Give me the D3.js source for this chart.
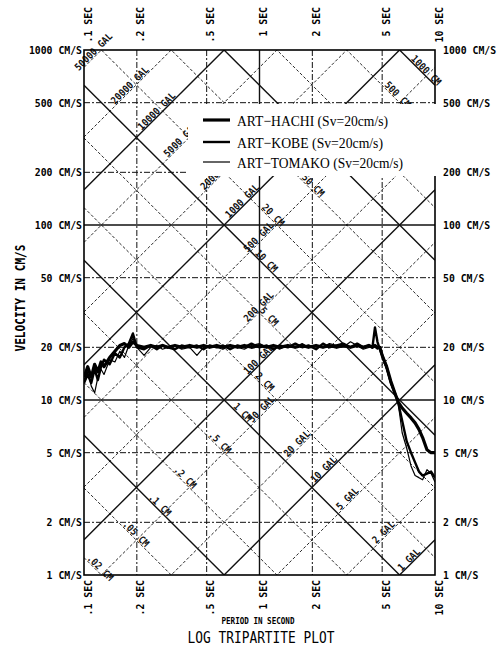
<!DOCTYPE html>
<html lang="en">
<head>
<meta charset="UTF-8">
<script src="https://d3js.org/d3.v7.min.js"></script>
<title>Log Tripartite Plot</title>
<style>
    body { margin: 0; background: #fff; }
    svg { display: block; }
</style>
</head>
<body>
<script>
// periods (sec) shared by the three spectra
const periods = [0.1, 0.105, 0.11, 0.115, 0.12, 0.125, 0.13,
    0.14, 0.15, 0.16, 0.17, 0.18, 0.19, 0.2,
    0.22, 0.24, 0.26, 0.28, 0.3, 0.33, 0.36, 0.4, 0.44, 0.48,
    0.52, 0.57, 0.62, 0.68, 0.75, 0.82, 0.9, 1.0, 1.1, 1.2,
    1.3, 1.45, 1.6, 1.75, 1.9, 2.1, 2.3, 2.5, 2.75, 3.0,
    3.3, 3.6, 3.9, 4.2, 4.4, 4.55, 4.7, 4.85, 5.0, 5.3,
    5.6, 5.9, 6.15, 6.5, 6.9, 7.3, 7.7, 8.1, 8.5, 9.0, 9.5, 10];

// velocity response (cm/s)
const hachi = [13.5, 15.5, 13.5, 16, 14.5, 16.5, 15.5,
    17.5, 19, 20.5, 21, 20, 21.5, 20.5,
    20, 20.5, 20, 20.5, 20, 20.5, 20, 20.5, 20, 20.5,
    20, 20.5, 20, 20.5, 20, 20.5, 20, 20.5, 20, 20.5,
    20, 20.5, 20, 20.5, 20, 20.5, 20, 20.5, 20, 20.5,
    20, 20.5, 20, 20.5, 20, 20.5, 20, 20, 18, 15.5,
    12.8, 11, 9.8, 9, 8.4, 7.9, 7.4, 6.8, 6.1, 5.2, 5.0, 5.0];

const kobe = [12.5, 14, 12.5, 15, 13, 15.5, 17,
    16, 18.5, 17.5, 20, 21, 24, 20,
    19.5, 20.5, 19.5, 20.5, 20, 19.5, 20.5, 20, 20.5, 19.5,
    20.5, 20, 20.5, 19.5, 20.5, 20, 21, 20, 20.5, 19.5,
    20.5, 20, 21, 20, 20.5, 19.5, 21, 20, 20.5, 21,
    20, 21, 20, 20.5, 20, 26, 21.5, 19.5, 18, 15.5,
    12.5, 11, 9.8, 7.6, 5.8, 5.0, 4.4, 3.9, 3.7, 3.8, 3.9, 3.6];

const tomako = [13, 14.5, 12, 11, 13.5, 15, 14,
    17, 16.5, 19, 17.5, 20.5, 22.5, 20,
    18, 20, 20.5, 19.5, 20, 20.5, 19.5, 20, 18, 20,
    20.5, 20, 19.5, 20.5, 20, 19.5, 20.5, 21, 20, 20.5,
    19.5, 20.5, 20, 21, 20, 20.5, 20, 21, 20.5, 20,
    21.5, 20.5, 19.5, 20, 20.5, 20, 19.5, 20, 17.5, 15,
    12.5, 10.8, 9.8, 6.5, 5.3, 4.2, 3.7, 3.6, 3.5, 4.0, 3.8, 3.4];

const seriesNames = ['ART−HACHI (Sv=20cm/s)', 'ART−KOBE (Sv=20cm/s)', 'ART−TOMAKO (Sv=20cm/s)'];

// axis ticks
const periodTicks = [0.1, 0.2, 0.5, 1, 2, 5, 10];
const periodLabels = ['.1 SEC', '.2 SEC', '.5 SEC', '1 SEC', '2 SEC', '5 SEC', '10 SEC'];
const velocityTicks = [1, 2, 5, 10, 20, 50, 100, 200, 500, 1000];
const velocityLabels = ['1 CM/S', '2 CM/S', '5 CM/S', '10 CM/S', '20 CM/S', '50 CM/S',
    '100 CM/S', '200 CM/S', '500 CM/S', '1000 CM/S'];

// diagonal lines: acceleration (gal) and displacement (cm)
const galValues = [1, 2, 5, 10, 20, 50, 100, 200, 500, 1000, 2000, 5000, 10000, 20000, 50000];
const galLabels = ['1 GAL', '2 GAL', '5 GAL', '10 GAL', '20 GAL', '50 GAL', '100 GAL', '200 GAL',
    '500 GAL', '1000 GAL', '2000 GAL', '5000 GAL', '10000 GAL', '20000 GAL', '50000 GAL'];
const cmValues = [0.02, 0.05, 0.1, 0.2, 0.5, 1, 2, 5, 10, 20, 50, 100, 200, 500, 1000];
const cmLabels = ['.02 CM', '.05 CM', '.1 CM', '.2 CM', '.5 CM', '1 CM', '2 CM', '5 CM',
    '10 CM', '20 CM', '50 CM', null, null, '500 CM', '1000 CM'];

// where along each diagonal the label sits (period, sec)
const galLabelAt = [7.4, 5.3, 3.3, 2.42, 1.7, 1.07, 1.03, 1.03, 1.03, 0.83, 0.6, 0.37, 0.27, 0.19, 0.118];
const cmLabelAt = [0.119, 0.19, 0.26, 0.362, 0.572, 0.77, 1.03, 1.09, 1.05, 1.15, 1.94, null, null, 5.89, 8.55];

const W = 503, H = 646;
const plotLeft = 84, plotRight = 435, plotTop = 50, plotBottom = 575;
const mono = '"DejaVu Sans Mono", "Liberation Mono", monospace';
const TWO_PI = 2 * Math.PI;

const svg = d3.select('body').append('svg')
    .attr('width', W)
    .attr('height', H);

const x = d3.scaleLog().domain([0.1, 10]).range([plotLeft, plotRight]);
const y = d3.scaleLog().domain([1, 1000]).range([plotBottom, plotTop]);

svg.append('defs').append('clipPath')
    .attr('id', 'plot-clip')
    .append('rect')
    .attr('x', plotLeft).attr('y', plotTop)
    .attr('width', plotRight - plotLeft).attr('height', plotBottom - plotTop);

const isDecade = v => Math.abs(Math.log10(v) - Math.round(Math.log10(v))) < 1e-6;

// vertical / horizontal grid
const grid = svg.append('g').attr('stroke', '#111').attr('fill', 'none');
grid.selectAll('.vgrid')
    .data(periodTicks.slice(1, -1))
    .enter().append('line')
    .attr('x1', d => x(d)).attr('x2', d => x(d))
    .attr('y1', plotTop).attr('y2', plotBottom)
    .attr('stroke-width', d => isDecade(d) ? 1.4 : 1)
    .attr('stroke-dasharray', d => isDecade(d) ? null : '6,2,2,2');
grid.selectAll('.hgrid')
    .data(velocityTicks.slice(1, -1))
    .enter().append('line')
    .attr('x1', plotLeft).attr('x2', plotRight)
    .attr('y1', d => y(d)).attr('y2', d => y(d))
    .attr('stroke-width', d => isDecade(d) ? 1.4 : 1)
    .attr('stroke-dasharray', d => isDecade(d) ? null : '6,2,2,2');

// diagonal lines
const diag = svg.append('g')
    .attr('clip-path', 'url(#plot-clip)')
    .attr('stroke', '#111').attr('fill', 'none');

// Sv = Sa * T / 2pi
diag.selectAll('.gal')
    .data(galValues)
    .enter().append('line')
    .attr('x1', x(0.1)).attr('x2', x(10))
    .attr('y1', d => y(d * 0.1 / TWO_PI))
    .attr('y2', d => y(d * 10 / TWO_PI))
    .attr('stroke-width', d => isDecade(d) ? 1.4 : 0.9)
    .attr('stroke-dasharray', d => isDecade(d) ? null : '3,2');

// Sv = 2pi * Sd / T
diag.selectAll('.cm')
    .data(cmValues)
    .enter().append('line')
    .attr('x1', x(0.1)).attr('x2', x(10))
    .attr('y1', d => y(TWO_PI * d / 0.1))
    .attr('y2', d => y(TWO_PI * d / 10))
    .attr('stroke-width', d => isDecade(d) ? 1.4 : 0.9)
    .attr('stroke-dasharray', d => isDecade(d) ? null : '3,2');

// diagonal labels
const diagLabels = svg.append('g')
    .attr('font-family', mono)
    .attr('font-size', '10px')
    .attr('font-weight', 'bold')
    .attr('fill', '#111')
    .attr('text-anchor', 'middle');

diagLabels.selectAll('.gal-label')
    .data(galValues.map((v, i) => ({ v: v, t: galLabelAt[i], label: galLabels[i] })))
    .enter().append('text')
    .attr('transform', d => `translate(${x(d.t)},${y(d.v * d.t / TWO_PI)}) rotate(-45)`)
    .attr('dy', -1)
    .attr('textLength', d => d.label.length * 5.4)
    .attr('lengthAdjust', 'spacingAndGlyphs')
    .text(d => d.label);

diagLabels.selectAll('.cm-label')
    .data(cmValues.map((v, i) => ({ v: v, t: cmLabelAt[i], label: cmLabels[i] })).filter(d => d.label))
    .enter().append('text')
    .attr('transform', d => `translate(${x(d.t)},${y(TWO_PI * d.v / d.t)}) rotate(45)`)
    .attr('dy', -1)
    .attr('textLength', d => d.label.length * 5.4)
    .attr('lengthAdjust', 'spacingAndGlyphs')
    .text(d => d.label);

// spectra
const series = [
    { values: hachi, width: 3.2 },
    { values: kobe, width: 2.4 },
    { values: tomako, width: 1.2 }
];

const line = d3.line()
    .x(d => x(d[0]))
    .y(d => y(d[1]));

svg.append('g')
    .attr('clip-path', 'url(#plot-clip)')
    .selectAll('path')
    .data(series)
    .enter().append('path')
    .attr('d', s => line(periods.map((t, i) => [t, s.values[i]])))
    .attr('fill', 'none')
    .attr('stroke', '#000')
    .attr('stroke-width', s => s.width)
    .attr('stroke-linejoin', 'round');

// frame
svg.append('rect')
    .attr('x', plotLeft).attr('y', plotTop)
    .attr('width', plotRight - plotLeft).attr('height', plotBottom - plotTop)
    .attr('fill', 'none')
    .attr('stroke', '#000')
    .attr('stroke-width', 1.6);

// legend (white box covers the grid)
svg.append('rect')
    .attr('x', 188).attr('y', 104)
    .attr('width', 252).attr('height', 72)
    .attr('fill', '#fff');

const legend = svg.append('g')
    .selectAll('g')
    .data(series)
    .enter().append('g')
    .attr('transform', (d, i) => `translate(203, ${[120, 142, 162][i]})`);

legend.append('line')
    .attr('x1', 0).attr('x2', 27)
    .attr('stroke', '#000')
    .attr('stroke-width', d => d.width);

legend.append('text')
    .attr('x', 34)
    .attr('y', 6)
    .attr('font-family', '"Liberation Serif", "Times New Roman", serif')
    .attr('font-size', '15px')
    .attr('textLength', (d, i) => [151, 146, 166][i])
    .attr('lengthAdjust', 'spacingAndGlyphs')
    .text((d, i) => seriesNames[i]);

// axes
function styleAxis(g) {
    g.select('.domain').remove();
    g.selectAll('.tick text')
        .attr('font-family', mono)
        .attr('font-size', '11px')
        .attr('font-weight', 'bold')
        .attr('fill', '#000')
        .attr('textLength', function () { return this.textContent.length * 5.9; })
        .attr('lengthAdjust', 'spacingAndGlyphs');
}

svg.append('g')
    .attr('transform', `translate(${plotLeft},0)`)
    .call(d3.axisLeft(y).tickValues(velocityTicks)
        .tickFormat((d, i) => velocityLabels[i]).tickSize(0).tickPadding(2))
    .call(styleAxis);

svg.append('g')
    .attr('transform', `translate(${plotRight},0)`)
    .call(d3.axisRight(y).tickValues(velocityTicks)
        .tickFormat((d, i) => velocityLabels[i]).tickSize(0).tickPadding(8))
    .call(styleAxis);

svg.append('g')
    .attr('transform', `translate(0,${plotTop})`)
    .call(d3.axisTop(x).tickValues(periodTicks)
        .tickFormat((d, i) => periodLabels[i]).tickSize(0))
    .call(styleAxis)
    .call(g => g.selectAll('.tick text')
        .attr('transform', 'rotate(-90)')
        .attr('text-anchor', 'end')
        .attr('x', 43)
        .attr('y', 7)
        .attr('dy', 0));

svg.append('g')
    .attr('transform', `translate(0,${plotBottom})`)
    .call(d3.axisBottom(x).tickValues(periodTicks)
        .tickFormat((d, i) => periodLabels[i]).tickSize(0))
    .call(styleAxis)
    .call(g => g.selectAll('.tick text')
        .attr('transform', 'rotate(-90)')
        .attr('text-anchor', 'end')
        .attr('x', -5)
        .attr('y', 7)
        .attr('dy', 0));

// titles
svg.append('text')
    .attr('transform', 'translate(25,298) rotate(-90)')
    .attr('text-anchor', 'middle')
    .attr('font-family', mono)
    .attr('font-size', '14px')
    .attr('font-weight', 'bold')
    .attr('textLength', 107)
    .attr('lengthAdjust', 'spacingAndGlyphs')
    .text('VELOCITY IN CM/S');

svg.append('text')
    .attr('x', 258).attr('y', 624)
    .attr('text-anchor', 'middle')
    .attr('font-family', mono)
    .attr('font-size', '8.5px')
    .attr('font-weight', 'bold')
    .attr('textLength', 73)
    .attr('lengthAdjust', 'spacingAndGlyphs')
    .text('PERIOD IN SECOND');

svg.append('text')
    .attr('x', 261).attr('y', 643)
    .attr('text-anchor', 'middle')
    .attr('font-family', mono)
    .attr('font-size', '16px')
    .attr('textLength', 147)
    .attr('lengthAdjust', 'spacingAndGlyphs')
    .text('LOG TRIPARTITE PLOT');
</script>
</body>
</html>
